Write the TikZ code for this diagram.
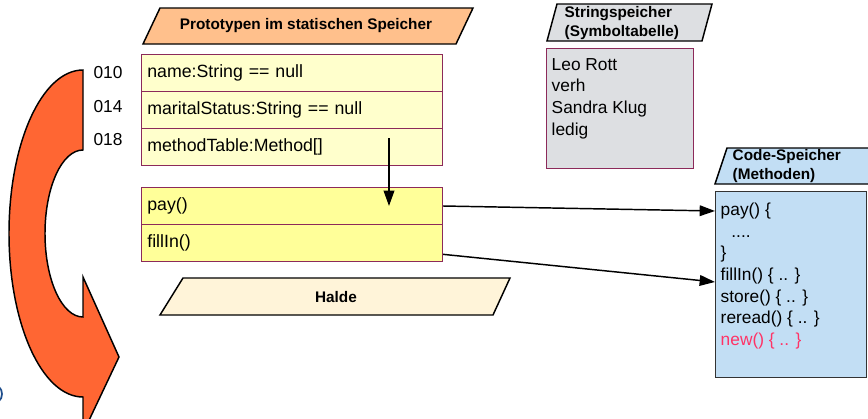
\documentclass[tikz,border=0pt]{standalone}
\usepackage{fontspec}
\setmainfont{Liberation Sans}
\usetikzlibrary{arrows.meta}

\definecolor{protohead}{HTML}{FFC08C}
\definecolor{protorow}{HTML}{FFFFCC}
\definecolor{payrow}{HTML}{FFFF99}
\definecolor{rowline}{HTML}{8C2A5A}
\definecolor{haldefill}{HTML}{FFF4D9}
\definecolor{strgray}{HTML}{DDDFE2}
\definecolor{codeblue}{HTML}{C2DEF4}
\definecolor{bigorange}{HTML}{FF6633}
\definecolor{newred}{HTML}{FF3366}
\definecolor{glyphblue}{HTML}{1F4E8C}

\begin{document}
\begin{tikzpicture}[x=0.75pt, y=-0.75pt, line width=1.1pt,
  body/.style={font=\fontsize{13}{16.3}\selectfont},
  head/.style={font=\fontsize{11.5}{14.25}\selectfont\bfseries, inner sep=0pt},
  row/.style={font=\fontsize{13.3}{16.3}\selectfont, draw=rowline, line width=0.75pt, anchor=north west,
    minimum height=27.75pt, text width=217pt, inner xsep=4.4pt, align=left},
  box/.style={draw=rowline, line width=0.75pt, anchor=north west, inner sep=0pt},
  ptr/.style={-{Triangle[length=11.5pt, width=8pt]}, line width=1.1pt}]
  \useasboundingbox (0,0) rectangle (868,418);
  \clip (0,0) rectangle (868,418);

  % big turning arrow
  \draw[fill=bigorange] (83,70) .. controls (42,70) and (9,143) .. (9,233.5)
        .. controls (9,324) and (42,397) .. (83,397) -- (83,433) -- (119,357)
        -- (83,277) -- (83,317) .. controls (62,317) and (45,280) .. (45,233.5)
        .. controls (45,187) and (62,150) .. (83,150) -- cycle;
  \draw[glyphblue, line width=1.3pt] (-1,387) .. controls (3,390) and (3,398) .. (-1,401);

  % static memory
  \draw[fill=protohead] (143,44) -- (160,8) -- (473,8) -- (456,44) -- cycle;
  \node[head] (protolabel) at (306,26) {Prototypen im statischen Speicher};
  \node[row, fill=protorow] (namerow)   at (141,54)  {name:String == null};
  \node[row, fill=protorow] (statusrow) at (141,91)  {maritalStatus:String == null};
  \node[row, fill=protorow] (methodrow) at (141,128) {methodTable:Method[]};
  \node[body] (a010) at (108,73)  {010};
  \node[body] (a014) at (108,107) {014};
  \node[body] (a018) at (108,140) {018};

  \node[row, fill=payrow] (payrow)  at (141,187) {pay()};
  \node[row, fill=payrow] (fillrow) at (141,224) {fillIn()};

  % heap
  \draw[fill=haldefill] (160,315) -- (183,278) -- (510,278) -- (493,315) -- cycle;
  \node[head] (haldelabel) at (336,297) {Halde};

  % string memory
  \draw[fill=strgray] (547,41) -- (557,4) -- (712,4) -- (702,41) -- cycle;
  \node[head, anchor=west, align=left] (strlabel) at (564,23.5) {Stringspeicher\\(Symboltabelle)};
  \node[box, fill=strgray, minimum width=110.25pt, minimum height=90pt] (strbox) at (546,48) {};
  \node[body, anchor=north west, align=left, inner sep=0pt] (strtext) at (551,57.5)
        {Leo Rott\\verh\\Sandra Klug\\ledig};

  % code memory
  \draw[fill=codeblue] (715,184) -- (727,148) -- (880,148) -- (880,184) -- cycle;
  \node[head, anchor=west, align=left] (codelabel) at (732,166) {Code-Speicher\\(Methoden)};
  \node[box, draw=black!80, fill=codeblue, minimum width=113.25pt, minimum height=139.5pt] (codebox) at (715,191) {};
  \node[body, anchor=north west, align=left, inner sep=0pt] (codetext) at (720,202)
        {pay() \{\\\hspace*{8pt}....\\\}\\fillIn() \{ .. \}\\store() \{ .. \}\\reread() \{ .. \}\\
         \textcolor{newred}{new() \{ .. \}}};

  % pointers
  \coordinate (mtstart) at (389,138);
  \coordinate (mtend) at (389,206);
  \draw[ptr] (mtstart) -- (mtend);
  \draw[ptr] (payrow.east) -- ([yshift=-15pt]codebox.north west);
  \draw[ptr] ([yshift=-8.5pt]fillrow.east) -- ([yshift=-68.25pt]codebox.north west);
\end{tikzpicture}
\end{document}
